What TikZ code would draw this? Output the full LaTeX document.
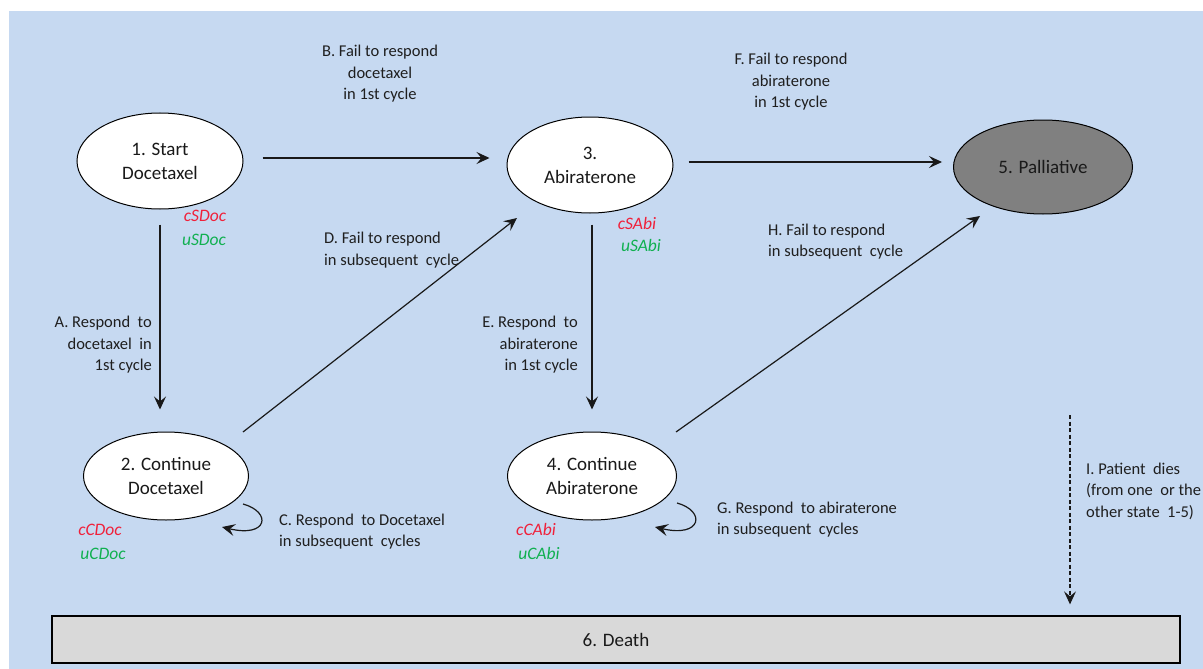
\documentclass[tikz,border=0pt]{standalone}
\usepackage{fontspec}
\setmainfont{Carlito}
\usetikzlibrary{shapes.geometric,arrows.meta}
\definecolor{bgblue}{HTML}{C6D9F1}
\definecolor{deathgray}{HTML}{D9D9D9}
\definecolor{palgray}{HTML}{808080}
\definecolor{cred}{HTML}{F0203A}
\definecolor{ugreen}{HTML}{10B050}
\tikzset{
  state/.style={ellipse, draw=black, line width=1pt, fill=white, inner sep=0pt, align=center,
    font=\fontsize{19}{24}\selectfont, text=black!90},
  lbl/.style={font=\fontsize{16.5}{21.5}\selectfont, text=black!88, inner sep=0pt},
  cvar/.style={font=\fontsize{17.5}{20}\selectfont\itshape, text=cred, inner sep=0pt},
  uvar/.style={font=\fontsize{17.5}{20}\selectfont\itshape, text=ugreen, inner sep=0pt},
  arr/.style={-{Stealth[length=13pt,width=12pt,inset=5pt]}, line width=1.2pt, black!90},
}
\begin{document}
\begin{tikzpicture}[x=1pt,y=-1pt]
\useasboundingbox (0,0) rectangle (1203,669);
\fill[bgblue] (9,11) rectangle (1203,669);

% states
\node[state, minimum width=166pt, minimum height=96pt] (s1) at (160,161) {1. Start\\Docetaxel};
\node[state, minimum width=165pt, minimum height=88pt] (s2) at (166,476) {2. Continue\\Docetaxel};
\node[state, minimum width=166pt, minimum height=96pt] (s3) at (590,165) {3.\\Abiraterone};
\node[state, minimum width=169pt, minimum height=88pt] (s4) at (592,476) {4. Continue\\Abiraterone};
\node[state, fill=palgray, minimum width=179pt, minimum height=94pt] (s5) at (1043,167) {5. Palliative};
\node[draw=black, line width=1.3pt, fill=deathgray, minimum width=1128pt, minimum height=47pt,
      inner sep=0pt, font=\fontsize{19}{24}\selectfont, text=black!90] (death) at (616,639.5) {6. Death};

% transitions
\draw[arr] ([shift={(19,-3)}]s1.east) -- ([shift={(-17,-7)}]s3.west);
\draw[arr] ([shift={(15,-3)}]s3.east) -- ([shift={(-11,-5)}]s5.west);
\draw[arr] ([shift={(0,15)}]s1.south) -- ([shift={(-6,-22)}]s2.north);
\draw[arr] ([shift={(2,11)}]s3.south) -- ([shift={(0,-22)}]s4.north);
\draw[arr] ([shift={(77,-44)}]s2.center) -- ([shift={(-73,53)}]s3.center);
\draw[arr] ([shift={(84,-44)}]s4.center) -- ([shift={(-63,49)}]s5.center);
\draw[arr] ([shift={(77,28)}]s2.center) .. controls ([shift={(106,36)}]s2.center) and ([shift={(102,62)}]s2.center) .. ([shift={(56,51)}]s2.center);
\draw[arr] ([shift={(85,27)}]s4.center) .. controls ([shift={(114,35)}]s4.center) and ([shift={(110,62)}]s4.center) .. ([shift={(63,51)}]s4.center);
\coordinate (itop) at (1070,415);
\draw[arr, dash pattern=on 4pt off 2.5pt] (itop) -- ([yshift=11pt]itop |- death.north);

% labels
\node[lbl, align=center] (lB) at (380,74) {B. Fail to respond\\docetaxel\\in 1st cycle};
\node[lbl, align=center] (lF) at (791,82) {F. Fail to respond\\abiraterone\\in 1st cycle};
\node[lbl, align=left, anchor=west] (lD) at (324,250) {D. Fail to respond\\in subsequent\ \ cycle};
\node[lbl, align=left, anchor=west] (lH) at (768,241.5) {H. Fail to respond\\in subsequent\ \ cycle};
\node[lbl, align=right, anchor=east] (lA) at (152,345) {A. Respond\ \ to\\docetaxel\ \ in\\1st cycle};
\node[lbl, align=right, anchor=east] (lE) at (578,345) {E. Respond\ \ to\\abiraterone\\in 1st cycle};
\node[lbl, align=left, anchor=west] (lC) at (279,531.5) {C. Respond\ \ to Docetaxel\\in subsequent\ \ cycles};
\node[lbl, align=left, anchor=west] (lG) at (717,519.5) {G. Respond\ \ to abiraterone\\in subsequent\ \ cycles};
\node[lbl, align=left, anchor=west] (lI) at (1086,491) {I. Patient\ \ dies\\(from one\ \ or the\\other state\ \ 1-5)};

% cost / utility variables
\node[cvar] (c1) at (205,216) {cSDoc};
\node[uvar] (u1) at (204,240) {uSDoc};
\node[cvar] (c3) at (637,223) {cSAbi};
\node[uvar] (u3) at (641,245) {uSAbi};
\node[cvar] (c2) at (100,530) {cCDoc};
\node[uvar] (u2) at (103,554) {uCDoc};
\node[cvar] (c4) at (536,529) {cCAbi};
\node[uvar] (u4) at (539,553) {uCAbi};
\end{tikzpicture}
\end{document}
